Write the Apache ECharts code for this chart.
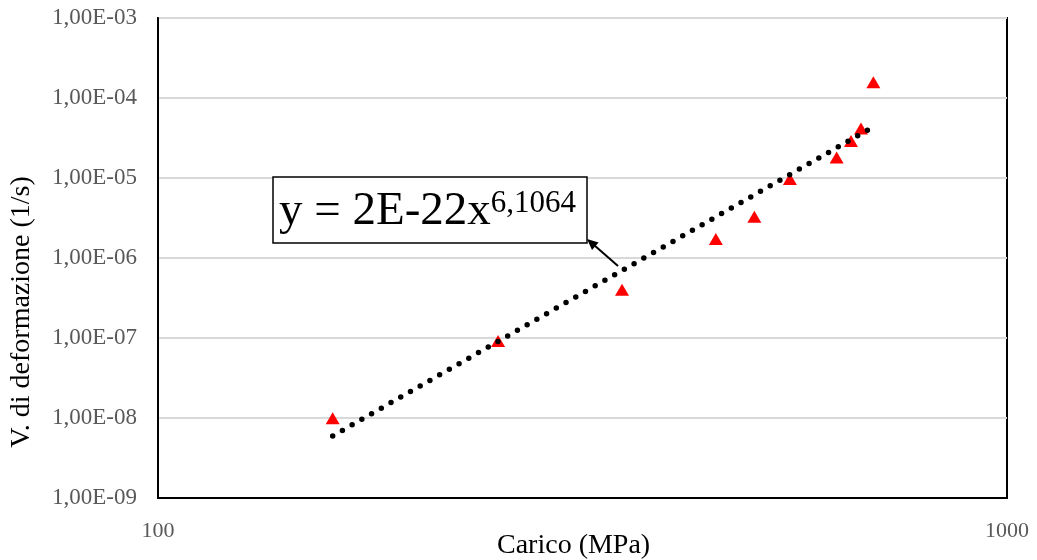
<!DOCTYPE html>
<html>
<head>
<meta charset="utf-8">
<script src="https://cdn.jsdelivr.net/npm/echarts@6/dist/echarts.min.js"></script>
<style>
html,body{margin:0;padding:0;background:#fff;}
#chart{width:1037px;height:560px;}
</style>
</head>
<body>
<div id="chart"></div>
<script>
// Data
const loadMPa = [160.6, 251.5, 352, 454, 504, 555, 630, 655, 673, 696];
const strainRate = [0.99e-8, 9.2e-8, 4.0e-7, 1.73e-6, 3.28e-6, 9.7e-6, 1.8e-5, 2.9e-5, 4.16e-5, 1.57e-4];
// Trendline endpoints (power law, straight on log-log axes)
const trendX = [160.6, 692.9];
const trendY = [5.96e-9, 4.25e-5];
const xTickLabels = ['100', '1000'];
const equationMain = 'y = 2E-22x';
const equationExp = '6,1064';
const xTitle = 'Carico (MPa)';
const yTitle = 'V. di deformazione (1/s)';

const chart = echarts.init(document.getElementById('chart'), null, {renderer: 'canvas'});
const serif = '"Liberation Serif", "DejaVu Serif", serif';

function fmtY(v) {
  const e = Math.round(Math.log10(v));
  return '1,00E' + (e < 0 ? '-' : '+') + String(Math.abs(e)).padStart(2, '0');
}

const option = {
  animation: false,
  backgroundColor: '#fff',
  grid: {left: 158, right: 30, top: 18, bottom: 62, show: true, borderColor: '#000', borderWidth: 2, backgroundColor: 'transparent'},
  xAxis: {
    type: 'log', logBase: 10, min: 100, max: 1000,
    axisLine: {show: true, lineStyle: {color: '#000', width: 2}},
    axisTick: {show: false},
    splitLine: {show: false},
    axisLabel: {
      margin: 22, color: '#595959', fontFamily: serif, fontSize: 22,
      formatter: function (v) { const s = String(Math.round(v)); return xTickLabels.indexOf(s) >= 0 ? s : ''; }
    }
  },
  yAxis: {
    type: 'log', logBase: 10, min: 1e-9, max: 1e-3, splitNumber: 6,
    axisLine: {show: true, lineStyle: {color: '#000', width: 2}},
    axisTick: {show: false},
    splitLine: {show: true, lineStyle: {color: '#d9d9d9', width: 2}},
    axisLabel: {margin: 21, color: '#595959', fontFamily: serif, fontSize: 23, formatter: fmtY}
  },
  series: [
    {
      type: 'scatter',
      data: loadMPa.map((x, i) => [x, strainRate[i]]),
      symbol: 'triangle', symbolSize: [14, 12],
      itemStyle: {color: '#ff0000', opacity: 1},
      z: 2
    },
    {
      type: 'line',
      data: trendX.map((x, i) => [x, trendY[i]]),
      showSymbol: false, symbol: 'none',
      lineStyle: {color: '#000', width: 5.5, type: [0, 11.2], cap: 'round', opacity: 1},
      z: 3
    }
  ],
  graphic: [
    {type: 'text', left: 497, top: 532, style: {text: xTitle, font: '28px ' + serif, fill: '#000'}},
    {type: 'text', x: 22, y: 312, rotation: Math.PI / 2, style: {text: yTitle, font: '28px ' + serif, fill: '#000', align: 'center', verticalAlign: 'middle'}},
    {type: 'rect', shape: {x: 273, y: 177, width: 314, height: 66}, style: {fill: '#fff', stroke: '#000', lineWidth: 1.5}, z: 10},
    {
      type: 'text', x: 279, y: 188, z: 11,
      style: {
        text: '{a|' + equationMain + '}{b|' + equationExp + '}',
        verticalAlign: 'top', align: 'left',
        rich: {
          a: {fontFamily: serif, fontSize: 47, fill: '#000', color: '#000'},
          b: {fontFamily: serif, fontSize: 31, lineHeight: 36, verticalAlign: 'top', fill: '#000', color: '#000'}
        }
      }
    },
    {type: 'line', shape: {x1: 618, y1: 266, x2: 594, y2: 245}, style: {stroke: '#000', lineWidth: 2}, z: 11},
    {type: 'polygon', shape: {points: [[587, 239], [598.6, 242.4], [592, 250]]}, style: {fill: '#000'}, z: 11}
  ]
};
chart.setOption(option);
</script>
</body>
</html>
